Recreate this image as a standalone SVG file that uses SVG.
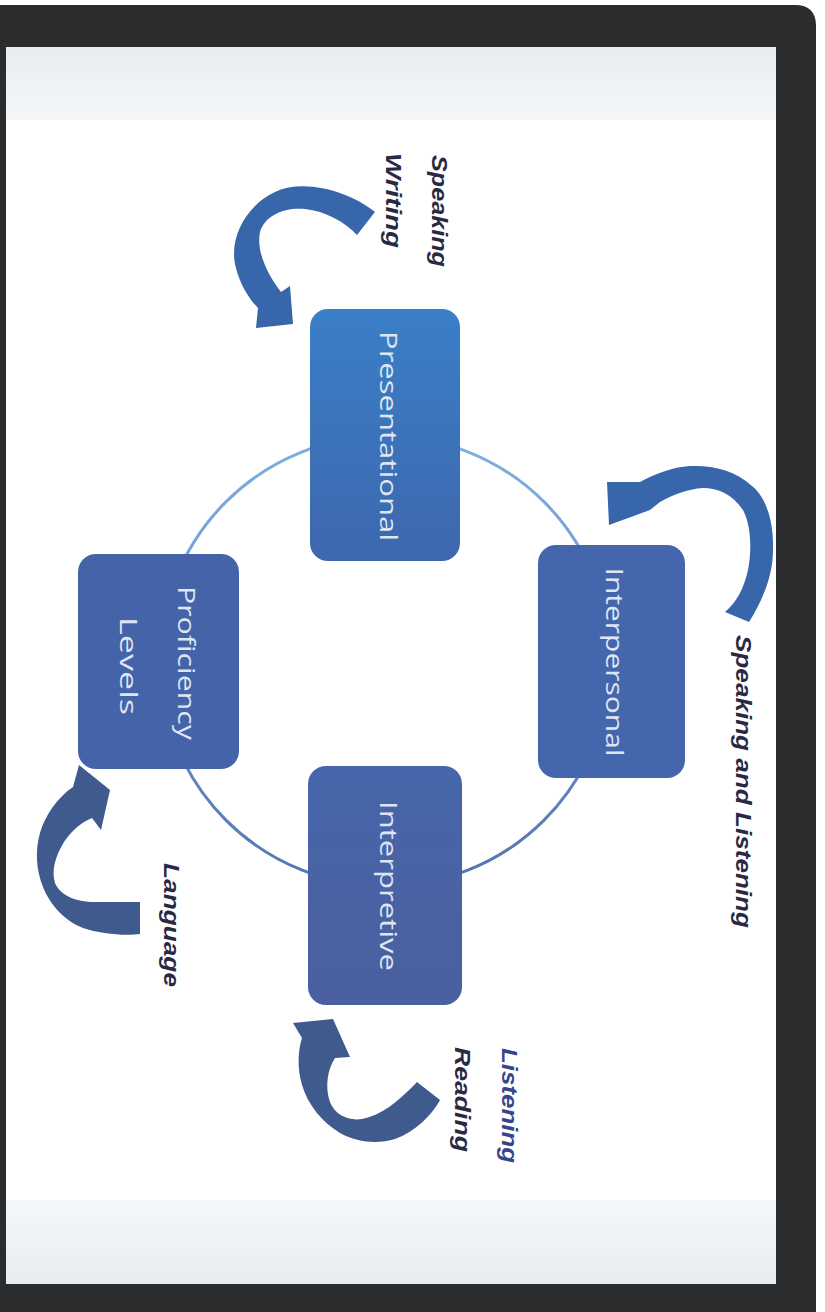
<svg xmlns="http://www.w3.org/2000/svg" width="825" height="1312" viewBox="0 0 825 1312">
<defs>
<style>
.box-text{font-family:"Open Sans","Noto Sans",sans-serif;font-size:23px;fill:#dde6f4;text-anchor:middle}
.lbl{font-family:"Liberation Sans","Noto Sans",sans-serif;font-size:22px;font-weight:bold;font-style:italic;fill:#2a2944}
.arrow-a{fill:#3866ab}
.arrow-b{fill:#3f5a8d}
</style>
<linearGradient id="gPres" x1="0" y1="0" x2="0" y2="1">
<stop offset="0" stop-color="#3a7fc7"/><stop offset="1" stop-color="#3e67ae"/>
</linearGradient>
<linearGradient id="gInterp" x1="0" y1="0" x2="0" y2="1">
<stop offset="0" stop-color="#4766ab"/><stop offset="1" stop-color="#4a5f9f"/>
</linearGradient>
<linearGradient id="gRing" x1="0" y1="0" x2="0" y2="1">
<stop offset="0" stop-color="#7fb0df"/><stop offset="0.5" stop-color="#6b95cc"/><stop offset="1" stop-color="#5574b0"/>
</linearGradient>
<linearGradient id="gTop" x1="0" y1="0" x2="0" y2="1">
<stop offset="0" stop-color="#e8edf1"/><stop offset="1" stop-color="#f5f7f9"/>
</linearGradient>
<linearGradient id="gBot" x1="0" y1="0" x2="0" y2="1">
<stop offset="0" stop-color="#f5f7f9"/><stop offset="1" stop-color="#e8edf2"/>
</linearGradient>
</defs>

<g id="frame">
<rect x="0" y="0" width="825" height="1312" fill="#ffffff"/>
<path d="M0,5 L795,5 Q816,5 816,26 L816,1312 L0,1312 Z" fill="#2a2c2e"/>
<rect x="6" y="47" width="770" height="1237" fill="#ffffff"/>
<rect x="6" y="47" width="770" height="73" fill="url(#gTop)"/>
<rect x="6" y="1200" width="770" height="84" fill="url(#gBot)"/>
</g>

<g id="connectors">
<circle cx="385" cy="661" r="225" fill="none" stroke="url(#gRing)" stroke-width="3"/>
<path id="arrow-presentational" class="arrow-a" d="M375,212 C350,192 305,178 275,192 C245,206 228,240 236,268 C240,285 250,300 258,308 L256,328 L293,324 L290,286 L281,292 C268,275 256,252 260,232 C265,215 285,207 305,209 C325,211 345,222 357,235 Z"/>
<path id="arrow-interpersonal" class="arrow-a" d="M749,622 C763,600 773,575 773,550 C774,522 766,497 752,486 C735,470 712,465 690,466 C672,467 655,474 640,482 L607,482 L609,525 L650,510 L660,502 C672,495 688,489 703,488 C718,488 732,494 743,510 C751,525 752,550 748,570 C744,588 737,602 725,612 Z"/>
<path id="arrow-proficiency" class="arrow-b" d="M140,934 C125,936 100,934 83,928 C65,921 50,905 43,887 C36,870 35,850 40,833 C45,815 58,797 73,787 L79,765 L110,790 L101,830 L92,818 C82,822 72,830 64,842 C56,855 51,870 55,883 C60,895 75,902 95,902 L140,902 Z"/>
<path id="arrow-interpretive" class="arrow-b" d="M440,1100 C432,1115 415,1132 395,1139 C378,1144 358,1143 340,1133 C322,1122 308,1105 302,1085 C297,1068 298,1050 302,1038 L293,1023 L333,1019 L350,1057 L335,1058 C327,1070 325,1088 330,1102 C335,1115 348,1121 362,1119 C380,1116 398,1102 417,1082 Z"/>
</g>

<g id="node-presentational">
<rect x="310" y="309" width="150" height="252" rx="18" fill="url(#gPres)"/>
<text class="box-text" transform="translate(380,436) rotate(90)" textLength="210" lengthAdjust="spacingAndGlyphs">Presentational</text>
</g>
<g id="node-interpersonal">
<rect x="538" y="545" width="147" height="233" rx="18" fill="#4466ad"/>
<text class="box-text" transform="translate(606,662) rotate(90)" textLength="189" lengthAdjust="spacingAndGlyphs">Interpersonal</text>
</g>
<g id="node-interpretive">
<rect x="308" y="766" width="154" height="239" rx="18" fill="url(#gInterp)"/>
<text class="box-text" transform="translate(380,886) rotate(90)" textLength="170" lengthAdjust="spacingAndGlyphs">Interpretive</text>
</g>
<g id="node-proficiency">
<rect x="78" y="554" width="161" height="215" rx="18" fill="#4563a8"/>
<text class="box-text" transform="translate(178,663) rotate(90)" textLength="154" lengthAdjust="spacingAndGlyphs">Proficiency</text>
<text class="box-text" transform="translate(120,666) rotate(90)" textLength="98" lengthAdjust="spacingAndGlyphs">Levels</text>
</g>

<g id="labels">
<text class="lbl" transform="translate(432,155) rotate(90)" textLength="112" lengthAdjust="spacingAndGlyphs">Speaking</text>
<text class="lbl" transform="translate(386,153) rotate(90)" textLength="95" lengthAdjust="spacingAndGlyphs">Writing</text>
<text class="lbl" transform="translate(736,635) rotate(90)" textLength="293" lengthAdjust="spacingAndGlyphs">Speaking and Listening</text>
<text class="lbl" transform="translate(164,863) rotate(90)" textLength="124" lengthAdjust="spacingAndGlyphs">Language</text>
<text class="lbl" transform="translate(502,1048) rotate(90)" textLength="115" lengthAdjust="spacingAndGlyphs" style="fill:#37468a">Listening</text>
<text class="lbl" transform="translate(455,1047) rotate(90)" textLength="105" lengthAdjust="spacingAndGlyphs">Reading</text>
</g>
</svg>
